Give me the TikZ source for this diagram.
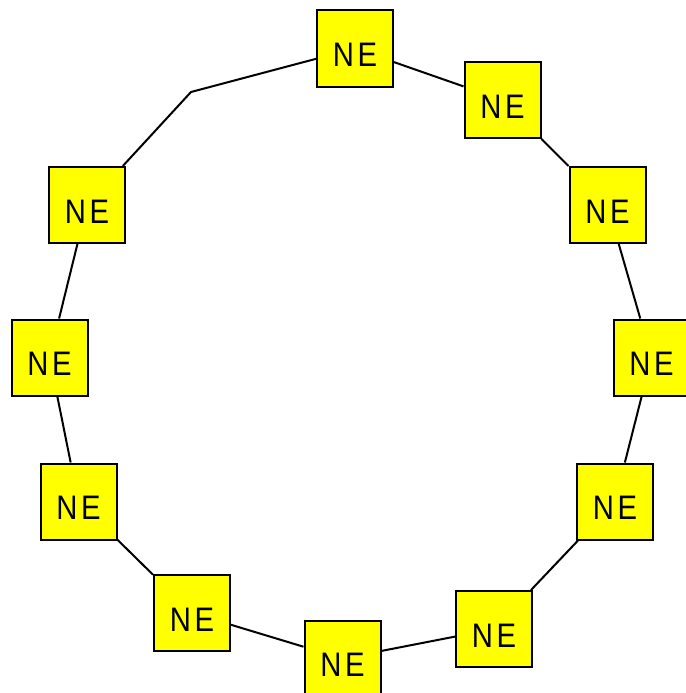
\documentclass[tikz,border=0pt]{standalone}
\usepackage{fontspec}
\setmainfont{Liberation Sans}
\definecolor{neyellow}{RGB}{255,255,0}
\begin{document}
\begin{tikzpicture}[x=1pt,y=-1pt,
  ne/.style={draw=black,line width=2pt,fill=neyellow,minimum width=76pt,minimum height=76pt,
    inner sep=0pt,text height=36.3pt,text depth=0pt,
    font=\fontsize{34}{34}\selectfont},
  link/.style={line width=2pt,draw=black}]
\useasboundingbox (0,0) rectangle (685,693);
\newcommand{\nelabel}{\scalebox{0.86}[1]{N\kern4pt E}}
\node[ne] (n1) at (355,48.5) {\nelabel};
\node[ne] (n2) at (502.5,100) {\nelabel};
\node[ne] (n3) at (607.5,205) {\nelabel};
\node[ne] (n4) at (651.5,357.5) {\nelabel};
\node[ne] (n5) at (615,501.5) {\nelabel};
\node[ne] (n6) at (494,629) {\nelabel};
\node[ne] (n7) at (342.5,658.5) {\nelabel};
\node[ne] (n8) at (192,613) {\nelabel};
\node[ne] (n9) at (78.5,501.5) {\nelabel};
\node[ne] (n10) at (49.5,357.5) {\nelabel};
\node[ne] (n11) at (87,205) {\nelabel};
\coordinate (bend) at (191,92);
\draw[link] (n1) -- (n2);
\draw[link] (n2) -- (n3);
\draw[link] (n3) -- (n4);
\draw[link] (n4) -- (n5);
\draw[link] (n5) -- (n6);
\draw[link] (n6) -- (n7);
\draw[link] (n7) -- (n8);
\draw[link] (n8) -- (n9);
\draw[link] (n9) -- (n10);
\draw[link] (n10) -- (n11);
\draw[link,line join=round] (n11) -- (bend) -- (n1);
\end{tikzpicture}
\end{document}
